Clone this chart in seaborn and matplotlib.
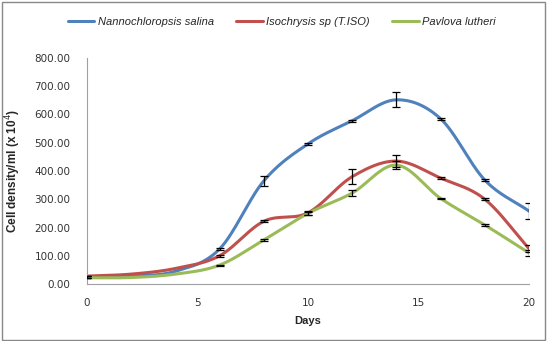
import numpy as np
import pandas as pd
import matplotlib
matplotlib.use("Agg")
import matplotlib.pyplot as plt
import seaborn as sns
from matplotlib.patches import Rectangle

days = [0, 2, 4, 6, 8, 10, 12, 14, 16, 18, 20]
nanno = [25, 28, 45, 124, 365, 496, 578, 652, 585, 368, 258]
nanno_err = [2, 0, 0, 4, 18, 4, 3, 27, 3, 3, 27]
iso = [28, 35, 55, 100, 222, 252, 380, 435, 375, 300, 125]
iso_err = [1, 0, 0, 4, 3, 8, 27, 20, 3, 3, 12]
pav = [22, 23, 35, 67, 156, 250, 322, 421, 303, 209, 110]
pav_err = [1, 0, 0, 2, 3, 5, 12, 15, 3, 2, 10]
labels = ["Nannochloropsis salina", "Isochrysis sp (T.ISO)", "Pavlova lutheri"]
colors = ["#4F81BD", "#C0504D", "#9BBB59"]


def catmull(x, y, n=30):
    x = np.asarray(x, float); y = np.asarray(y, float)
    px = np.concatenate([[2 * x[0] - x[1]], x, [2 * x[-1] - x[-2]]])
    py = np.concatenate([[2 * y[0] - y[1]], y, [2 * y[-1] - y[-2]]])
    xs, ys = [], []
    for i in range(1, len(px) - 2):
        t = np.linspace(0, 1, n, endpoint=False)
        for arr, out in ((px, xs), (py, ys)):
            p0, p1, p2, p3 = arr[i - 1], arr[i], arr[i + 1], arr[i + 2]
            out.append(0.5 * ((2 * p1) + (-p0 + p2) * t + (2 * p0 - 5 * p1 + 4 * p2 - p3) * t ** 2
                              + (-p0 + 3 * p1 - 3 * p2 + p3) * t ** 3))
    xs.append([x[-1]]); ys.append([y[-1]])
    return np.concatenate(xs), np.concatenate(ys)


sns.set_style("white")
plt.rcParams["font.family"] = ["DejaVu Sans"]

fig = plt.figure(figsize=(5.47, 3.41), dpi=100)
ax = fig.add_axes([87 / 547, 57 / 341, 442 / 547, 226 / 341])

frames = []
for lab, vals in zip(labels, [nanno, iso, pav]):
    sx, sy = catmull(days, vals)
    frames.append(pd.DataFrame({"Days": sx, "val": sy, "series": lab}))
df = pd.concat(frames)
sns.lineplot(data=df, x="Days", y="val", hue="series", palette=colors, sort=False,
             linewidth=2.2, ax=ax, legend=False, estimator=None)

for vals, errs in zip([nanno, iso, pav], [nanno_err, iso_err, pav_err]):
    keep = [i for i, e in enumerate(errs) if e > 0]
    ax.errorbar([days[i] for i in keep], [vals[i] for i in keep], yerr=[errs[i] for i in keep],
                fmt="none", ecolor="black", elinewidth=0.9, capsize=3, capthick=0.9, zorder=5)

ax.set_xlim(0, 20)
ax.set_ylim(0, 800)
ax.set_xticks([0, 5, 10, 15, 20])
ax.set_yticks(np.arange(0, 801, 100))
ax.set_yticklabels([f"{v:.2f}" for v in np.arange(0, 801, 100)])
ax.tick_params(axis="both", labelsize=7.5, colors="#333333", length=0, pad=10)
ax.tick_params(axis="y", pad=12)
for s in ["top", "right"]:
    ax.spines[s].set_visible(False)
for s in ["left", "bottom"]:
    ax.spines[s].set_color("#A0A0A0")
    ax.spines[s].set_linewidth(0.8)
ax.set_xlabel("Days", fontsize=8, fontweight="bold", labelpad=6, family="Liberation Sans")
ax.set_ylabel("Cell density/ml (x 10$^4$)", fontsize=8.5, fontweight="bold", labelpad=8,
              family="Liberation Sans")

handles = [plt.Line2D([], [], color=c, lw=2.2) for c in colors]
leg = fig.legend(handles, labels, loc="center", bbox_to_anchor=(0.515, 0.935), ncol=3,
                 frameon=False, prop={"style": "italic", "size": 8, "family": "Liberation Sans"},
                 handlelength=2.4, handletextpad=0.3, columnspacing=2.0)

fig.add_artist(Rectangle((0.004, 0.004), 0.992, 0.99, transform=fig.transFigure,
                         fill=False, edgecolor="#888888", linewidth=1))
fig.savefig("out.png", dpi=100)
